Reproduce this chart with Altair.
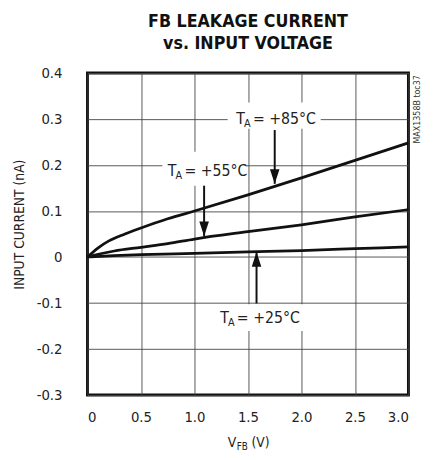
import altair as alt
import pandas as pd

# ---- data ----
vfb_85 = [0, 0.1, 0.2, 0.35, 0.5, 0.75, 1.0, 1.5, 2.0, 2.5, 3.0]
i_85 = [0, 0.02, 0.035, 0.05, 0.063, 0.083, 0.1, 0.135, 0.172, 0.21, 0.248]
vfb_55 = [0, 0.1, 0.25, 0.5, 0.75, 1.0, 1.5, 2.0, 2.5, 3.0]
i_55 = [0, 0.006, 0.013, 0.021, 0.029, 0.039, 0.055, 0.07, 0.087, 0.103]
vfb_25 = [0, 0.25, 0.5, 1.0, 1.5, 2.0, 2.5, 3.0]
i_25 = [0, 0.003, 0.005, 0.008, 0.011, 0.014, 0.018, 0.022]

x_ticks = [0, 0.5, 1.0, 1.5, 2.0, 2.5, 3.0]
y_ticks = [-0.3, -0.2, -0.1, 0, 0.1, 0.2, 0.3, 0.4]

labels = ["+85°C", "+55°C", "+25°C"]
label_x = [1.39, 0.75, 1.24]      # left edge of "T"
label_y = [0.299, 0.187, -0.133]
box_x1 = [1.31, 0.70, 1.16]
box_x2 = [2.18, 1.49, 2.08]
box_y1 = [0.336, 0.229, -0.103]
box_y2 = [0.279, 0.155, -0.161]
arrow_x = [1.75, 1.09, 1.58]
arrow_from = [0.276, 0.155, -0.101]
arrow_tip = [0.159, 0.045, 0.011]
arrow_dir = ["down", "down", "up"]

FONT = "Liberation Sans Narrow, DejaVu Sans Condensed, sans-serif"

curves = pd.concat([
    pd.DataFrame({"v": vfb_85, "i": i_85, "s": "85"}),
    pd.DataFrame({"v": vfb_55, "i": i_55, "s": "55"}),
    pd.DataFrame({"v": vfb_25, "i": i_25, "s": "25"}),
])
ann = pd.DataFrame({
    "lab": labels, "lx": label_x, "ly": label_y,
    "bx1": box_x1, "bx2": box_x2, "by1": box_y1, "by2": box_y2,
    "ax": arrow_x, "af": arrow_from, "at": arrow_tip, "dir": arrow_dir,
})

xscale = alt.Scale(domain=[0, 3], nice=False, zero=False)
yscale = alt.Scale(domain=[-0.3, 0.4], nice=False, zero=False)

xax = alt.Axis(values=x_ticks, grid=True, tickSize=0, domain=False, title=None,
               labelExpr="datum.value == 0 ? '0' : format(datum.value, '.1f')",
               labelFont=FONT, labelFontSize=15, labelColor="#222", labelPadding=15,
               gridColor="#444", gridWidth=0.9)
yax = alt.Axis(values=y_ticks, grid=True, tickSize=0, domain=False,
               title="INPUT CURRENT (nA)", titleFont=FONT, titleFontSize=14,
               titleFontWeight="normal", titleColor="#222", titleX=-69, titleY=154,
               titleBaseline="middle",
               labelExpr="datum.value == 0 ? '0' : (datum.value < 0 ? '-' : '') + format(abs(datum.value), '.1f')",
               labelFont=FONT, labelFontSize=15, labelColor="#222", labelPadding=26,
               gridColor="#444", gridWidth=0.9)

base = alt.Chart(curves)

lines = base.mark_line(color="#111", strokeWidth=2.8, interpolate="monotone").encode(
    x=alt.X("v:Q", scale=xscale, axis=xax),
    y=alt.Y("i:Q", scale=yscale, axis=yax),
    detail="s:N",
)

abase = alt.Chart(ann)
boxes = abase.mark_rect(color="white").encode(
    x=alt.X("bx1:Q", scale=xscale), x2="bx2:Q",
    y=alt.Y("by1:Q", scale=yscale), y2="by2:Q",
)
shafts = abase.mark_rule(color="#111", strokeWidth=2).encode(
    x=alt.X("ax:Q", scale=xscale),
    y=alt.Y("af:Q", scale=yscale), y2="at:Q",
)
heads_down = abase.transform_filter("datum.dir == 'down'").mark_point(
    shape="M -0.65 -2 L 0.65 -2 L 0 0 Z", size=225, filled=True, color="#111", opacity=1,
).encode(x=alt.X("ax:Q", scale=xscale), y=alt.Y("at:Q", scale=yscale))
heads_up = abase.transform_filter("datum.dir == 'up'").mark_point(
    shape="M -0.65 2 L 0.65 2 L 0 0 Z", size=225, filled=True, color="#111", opacity=1,
).encode(x=alt.X("ax:Q", scale=xscale), y=alt.Y("at:Q", scale=yscale))

t_main = abase.mark_text(font=FONT, fontSize=16, align="left", baseline="middle",
                         color="#222").encode(
    x=alt.X("lx:Q", scale=xscale), y=alt.Y("ly:Q", scale=yscale), text=alt.value("T"))
t_sub = abase.mark_text(font=FONT, fontSize=11, align="left", baseline="middle",
                        dx=8, dy=5, color="#222").encode(
    x=alt.X("lx:Q", scale=xscale), y=alt.Y("ly:Q", scale=yscale), text=alt.value("A"))
t_rest = abase.mark_text(font=FONT, fontSize=16, align="left", baseline="middle",
                         dx=17, color="#222").encode(
    x=alt.X("lx:Q", scale=xscale), y=alt.Y("ly:Q", scale=yscale),
    text=alt.Text("rest:N")).transform_calculate(rest="'= ' + datum.lab")

title_df = pd.DataFrame({"t": ["FB LEAKAGE CURRENT", "vs. INPUT VOLTAGE"], "row": [0, 1]})
title1 = alt.Chart(title_df).transform_filter("datum.row == 0").mark_text(
    font=FONT, fontSize=18, fontWeight="bold", color="#111", baseline="middle", align="center"
).encode(text="t:N", x=alt.value(163.5), y=alt.value(-52))
title2 = alt.Chart(title_df).transform_filter("datum.row == 1").mark_text(
    font=FONT, fontSize=18, fontWeight="bold", color="#111", baseline="middle", align="center"
).encode(text="t:N", x=alt.value(163.5), y=alt.value(-29))

xt1 = abase.mark_text(font=FONT, fontSize=14, align="left", baseline="middle", color="#222"
                      ).encode(text=alt.value("V"), x=alt.value(143), y=alt.value(49 + 328)).transform_filter("datum.dir == 'up'")
xt2 = abase.mark_text(font=FONT, fontSize=10, align="left", baseline="middle", color="#222"
                      ).encode(text=alt.value("FB"), x=alt.value(152), y=alt.value(53 + 328)).transform_filter("datum.dir == 'up'")
xt3 = abase.mark_text(font=FONT, fontSize=14, align="left", baseline="middle", color="#222"
                      ).encode(text=alt.value("(V)"), x=alt.value(167), y=alt.value(49 + 328)).transform_filter("datum.dir == 'up'")
side = abase.mark_text(font=FONT, fontSize=9, angle=270, align="center", baseline="middle",
                       color="#333").encode(text=alt.value("MAX1358B toc37"),
                                            x=alt.value(336), y=alt.value(37)).transform_filter("datum.dir == 'up'")

chart = alt.layer(
    lines, boxes, shafts, heads_down, heads_up, t_main, t_sub, t_rest,
    title1, title2, xt1, xt2, xt3, side,
).properties(
    width=327, height=328,
    background="white",
    autosize=alt.AutoSizeParams(type="none"),
    padding={"left": 81, "top": 62, "right": 24, "bottom": 60},
).configure_view(stroke="#111", strokeWidth=3)

chart.save("out.html", embed_options={"renderer": "svg", "actions": False})
